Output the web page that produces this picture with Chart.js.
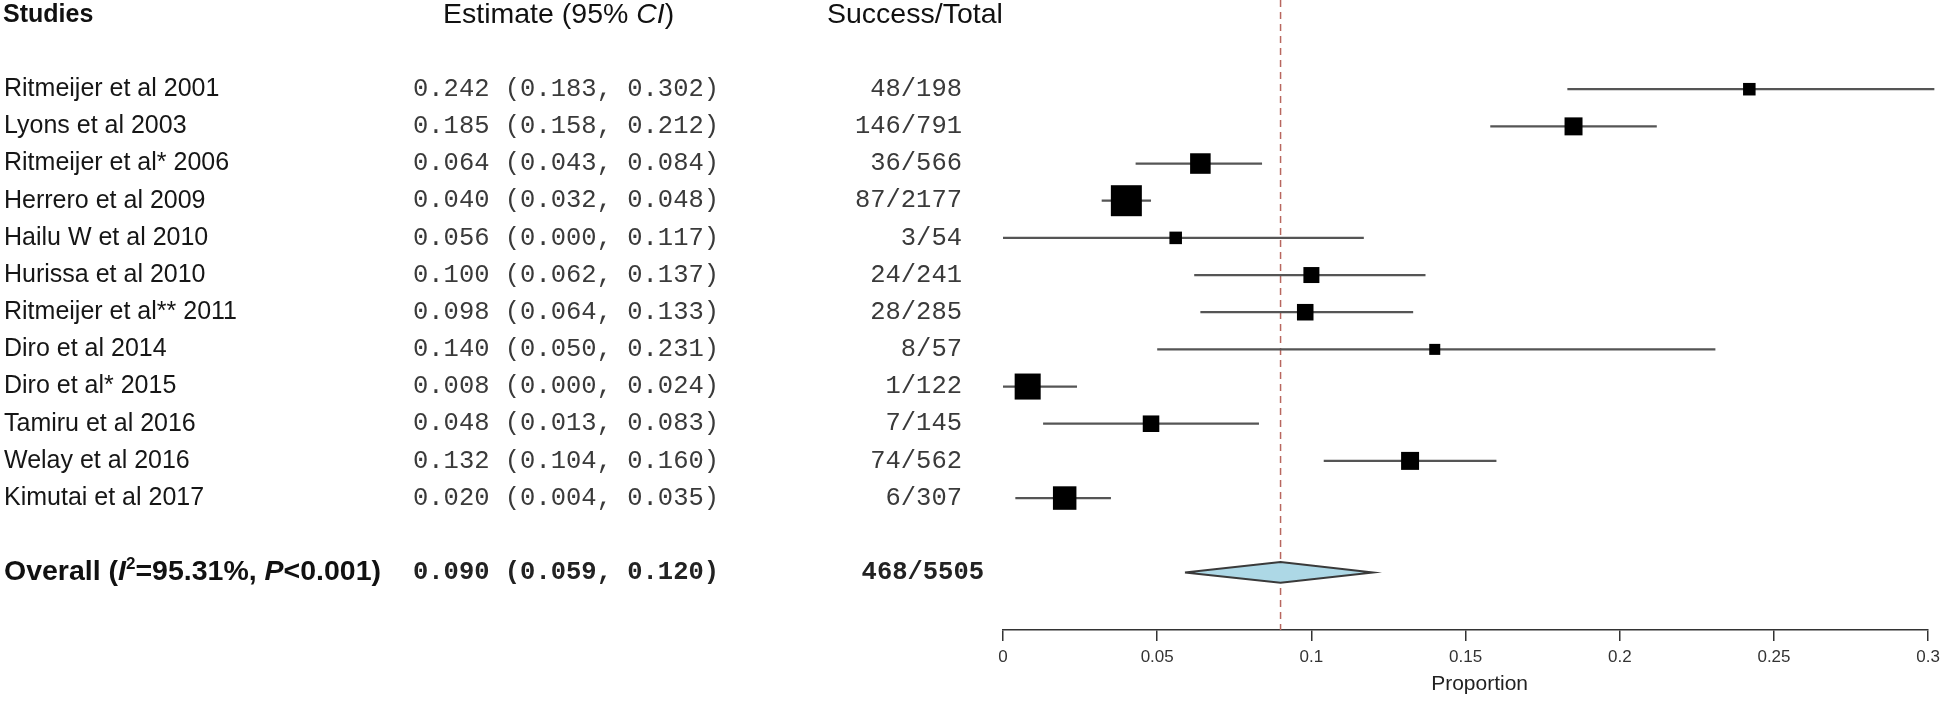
<!DOCTYPE html>
<html lang="en">
<head>
  <meta charset="UTF-8" />
  <title>Forest plot - pooled proportion</title>
  <script src="https://cdn.jsdelivr.net/npm/chart.js"></script>
  <style>
    html, body { margin: 0; padding: 0; background: #fff; }
    #wrap { width: 1946px; height: 708px; }
  </style>
</head>
<body>
  <div id="wrap"><canvas id="forestChart" width="1946" height="708"></canvas></div>

  <script>
    // ---- data ----
    const studies = [
      'Ritmeijer et al 2001', 'Lyons et al 2003', 'Ritmeijer et al* 2006', 'Herrero et al 2009',
      'Hailu W et al 2010', 'Hurissa et al 2010', 'Ritmeijer et al** 2011', 'Diro et al 2014',
      'Diro et al* 2015', 'Tamiru et al 2016', 'Welay et al 2016', 'Kimutai et al 2017'
    ];
    const estimates = [0.242, 0.185, 0.064, 0.040, 0.056, 0.100, 0.098, 0.140, 0.008, 0.048, 0.132, 0.020];
    const lowerCI   = [0.183, 0.158, 0.043, 0.032, 0.000, 0.062, 0.064, 0.050, 0.000, 0.013, 0.104, 0.004];
    const upperCI   = [0.302, 0.212, 0.084, 0.048, 0.117, 0.137, 0.133, 0.231, 0.024, 0.083, 0.160, 0.035];
    const events    = [48, 146, 36, 87, 3, 24, 28, 8, 1, 7, 74, 6];
    const totals    = [198, 791, 566, 2177, 54, 241, 285, 57, 122, 145, 562, 307];
    // relative study weights (%)
    const weights   = [3.5, 7.2, 9.4, 21.4, 3.5, 5.7, 6.1, 2.7, 15.1, 6.1, 7.2, 12.3];

    const pooledEstimate = 0.090;
    const pooledLower = 0.059;
    const pooledUpper = 0.120;
    const pooledEvents = 468;
    const pooledTotal = 5505;

    const tickValues = [0, 0.05, 0.1, 0.15, 0.2, 0.25, 0.3];
    const tickLabels = ['0', '0.05', '0.1', '0.15', '0.2', '0.25', '0.3'];

    // ---- layout (row units on the hidden y axis) ----
    const ROW_TOP = -2.4;
    const ROW_BOTTOM = 14.55;
    const HEADER_ROW = -2;
    const POOLED_ROW = 13;
    const DIAMOND_HALF = 0.28;

    const SANS = '"Liberation Sans", Arial, sans-serif';
    const MONO = '"Liberation Mono", "Courier New", monospace';

    const fmt = v => v.toFixed(3);

    // one line dataset for all CI whiskers, broken with null points
    const ciPoints = studies.flatMap((s, i) => [
      { x: lowerCI[i], y: i },
      { x: upperCI[i], y: i },
      { x: upperCI[i], y: null }
    ]);

    const boxPoints = studies.map((s, i) => ({ x: estimates[i], y: i }));
    const boxRadius = weights.map(w => 6.7 * Math.sqrt(w) / Math.SQRT2);

    const diamondPoints = [
      { x: pooledLower, y: POOLED_ROW },
      { x: pooledEstimate, y: POOLED_ROW - DIAMOND_HALF },
      { x: pooledUpper, y: POOLED_ROW },
      { x: pooledEstimate, y: POOLED_ROW + DIAMOND_HALF },
      { x: pooledLower, y: POOLED_ROW }
    ];

    function drawRuns(ctx, runs, x, y) {
      runs.forEach(r => {
        ctx.font = r.font;
        ctx.fillText(r.text, x, y + (r.dy || 0));
        x += ctx.measureText(r.text).width;
      });
    }

    // text columns to the left of the plot + axis title
    const forestText = {
      id: 'forestText',
      afterDraw(chart) {
        const ctx = chart.ctx;
        const yScale = chart.scales.y;
        const xScale = chart.scales.x;
        ctx.save();
        ctx.textBaseline = 'middle';

        // header
        const hy = yScale.getPixelForValue(HEADER_ROW);
        ctx.fillStyle = '#111';
        ctx.textAlign = 'left';
        drawRuns(ctx, [{ text: 'Studies', font: 'bold 25px ' + SANS }], 3, hy);
        drawRuns(ctx, [
          { text: 'Estimate (95% ', font: '28.5px ' + SANS },
          { text: 'CI', font: 'italic 28.5px ' + SANS },
          { text: ')', font: '28.5px ' + SANS }
        ], 443, hy);
        drawRuns(ctx, [{ text: 'Success/Total', font: '28.5px ' + SANS }], 827, hy);

        // study rows
        studies.forEach((name, i) => {
          const y = yScale.getPixelForValue(i);
          ctx.textAlign = 'left';
          ctx.fillStyle = '#161616';
          ctx.font = '25px ' + SANS;
          ctx.fillText(name, 4, y);

          ctx.fillStyle = '#3a3a3a';
          ctx.font = '25.5px ' + MONO;
          ctx.fillText(`${fmt(estimates[i])} (${fmt(lowerCI[i])}, ${fmt(upperCI[i])})`, 413, y);
          ctx.textAlign = 'right';
          ctx.fillText(`${events[i]}/${totals[i]}`, 962, y);
        });

        // pooled row
        const py = yScale.getPixelForValue(POOLED_ROW);
        ctx.textAlign = 'left';
        ctx.fillStyle = '#111';
        const b = 'bold 28.5px ' + SANS;
        const bi = 'italic bold 28.5px ' + SANS;
        drawRuns(ctx, [
          { text: 'Overall (', font: b },
          { text: 'I', font: bi },
          { text: '2', font: 'bold 17px ' + SANS, dy: -8 },
          { text: '=95.31%, ', font: b },
          { text: 'P', font: bi },
          { text: '<0.001)', font: b }
        ], 4, py);

        ctx.fillStyle = '#222';
        ctx.font = 'bold 25.5px ' + MONO;
        ctx.fillText(`${fmt(pooledEstimate)} (${fmt(pooledLower)}, ${fmt(pooledUpper)})`, 413, py);
        ctx.textAlign = 'right';
        ctx.fillText(`${pooledEvents}/${pooledTotal}`, 984, py);

        // x axis title, sits a little right of the axis centre in the original
        ctx.textAlign = 'center';
        ctx.fillStyle = '#222';
        ctx.font = '21px ' + SANS;
        ctx.fillText('Proportion', (xScale.left + xScale.right) / 2 + 14, 684);

        ctx.restore();
      }
    };

    const ctx = document.getElementById('forestChart').getContext('2d');
    new Chart(ctx, {
      type: 'scatter',
      data: {
        datasets: [
          {
            type: 'line',
            label: 'Pooled estimate',
            data: [{ x: pooledEstimate, y: ROW_TOP }, { x: pooledEstimate, y: ROW_BOTTOM }],
            borderColor: '#b8675f',
            borderWidth: 1.5,
            borderDash: [7, 5],
            pointRadius: 0,
            order: 10
          },
          {
            type: 'line',
            label: '95% CI',
            data: ciPoints,
            borderColor: '#555',
            borderWidth: 2.2,
            pointRadius: 0,
            spanGaps: false,
            clip: false,
            order: 5
          },
          {
            type: 'line',
            label: 'Overall',
            data: diamondPoints,
            borderColor: '#3a3a3a',
            borderWidth: 2,
            backgroundColor: '#add8e6',
            fill: 'shape',
            pointRadius: 0,
            order: 3
          },
          {
            label: 'Studies',
            data: boxPoints,
            pointStyle: 'rect',
            pointRadius: boxRadius,
            pointBackgroundColor: '#000',
            pointBorderWidth: 0,
            clip: false,
            order: 1
          }
        ]
      },
      options: {
        responsive: false,
        animation: false,
        events: [],
        layout: { autoPadding: false, padding: { left: 1003, right: 16, top: 0, bottom: 0 } },
        plugins: {
          legend: { display: false },
          tooltip: { enabled: false }
        },
        scales: {
          x: {
            type: 'linear',
            min: 0,
            max: 0.3,
            afterBuildTicks(scale) {
              scale.ticks = tickValues.map(v => ({ value: v }));
            },
            afterFit(scale) {
              scale.height = 78;
            },
            ticks: {
              callback: (v, i) => tickLabels[i],
              color: '#333',
              padding: 6,
              maxRotation: 0,
              font: { family: SANS, size: 17 }
            },
            grid: {
              drawOnChartArea: false,
              drawTicks: true,
              tickLength: 11,
              color: '#333',
              lineWidth: 1.5
            },
            border: { display: true, color: '#333', width: 1.5 },
            title: { display: false }
          },
          y: {
            type: 'linear',
            display: false,
            reverse: true,
            min: ROW_TOP,
            max: ROW_BOTTOM
          }
        }
      },
      plugins: [forestText]
    });
  </script>
</body>
</html>
